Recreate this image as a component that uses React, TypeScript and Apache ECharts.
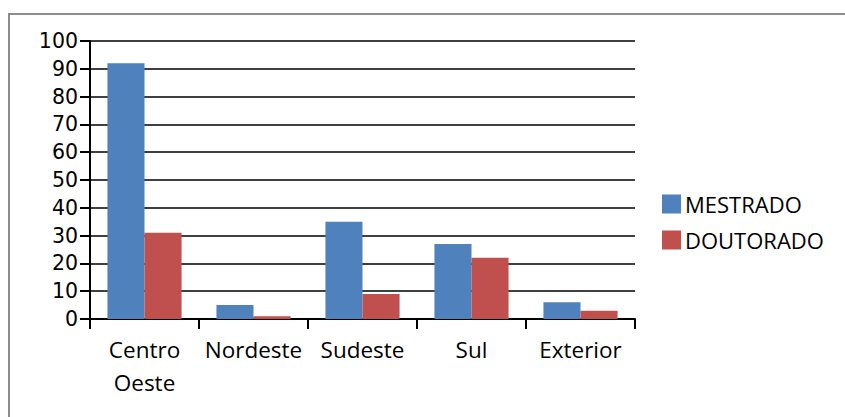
import React, { useEffect, useRef } from "react";
import * as echarts from "echarts";

const categories = ["Centro\nOeste", "Nordeste", "Sudeste", "Sul", "Exterior"];
const mestrado = [92, 5, 35, 27, 6];
const doutorado = [31, 1, 9, 22, 3];
const seriesNames = ["MESTRADO", "DOUTORADO"];

const FONT = "'Open Sans', 'Noto Sans', sans-serif";

export default function App() {
  const ref = useRef<HTMLDivElement>(null);
  useEffect(() => {
    const chart = echarts.init(ref.current!, undefined, { renderer: "svg" });
    chart.setOption({
      animation: false,
      backgroundColor: "#ffffff",
      graphic: [
        {
          type: "rect",
          shape: { x: 9, y: 14, width: 860, height: 430 },
          style: { fill: "none", stroke: "#8c8c8c", lineWidth: 2 },
          silent: true,
        },
      ],
      grid: { left: 90, top: 41, right: 210, bottom: 98, containLabel: false },
      legend: {
        orient: "vertical",
        left: 662,
        top: 193,
        padding: 0,
        itemWidth: 19,
        itemHeight: 19,
        itemGap: 14,
        icon: "rect",
        textStyle: {
          fontFamily: FONT,
          fontSize: 22,
          lineHeight: 19,
          color: "#000",
          padding: [0, 0, 0, -1],
        },
        data: seriesNames,
      },
      xAxis: {
        type: "category",
        data: categories,
        axisLine: { lineStyle: { color: "#000", width: 2 } },
        axisTick: { show: true, length: 10, lineStyle: { color: "#000", width: 2 } },
        axisLabel: {
          color: "#000",
          fontFamily: FONT,
          fontSize: 22.5,
          lineHeight: 33,
          margin: 14,
          interval: 0,
        },
      },
      yAxis: {
        type: "value",
        min: 0,
        max: 100,
        interval: 10,
        axisLine: { show: true, lineStyle: { color: "#000", width: 2 } },
        axisTick: { show: true, length: 10, lineStyle: { color: "#000", width: 2 } },
        axisLabel: {
          color: "#000",
          fontFamily: "'DejaVu Sans', sans-serif",
          fontSize: 20.5,
          lineHeight: 22,
          margin: 12,
        },
        splitLine: { lineStyle: { color: "#000", width: 1.5 } },
      },
      series: [
        {
          name: seriesNames[0],
          type: "bar",
          data: mestrado,
          itemStyle: { color: "#4f81bd" },
          barGap: "0%",
          barCategoryGap: "32%",
        },
        {
          name: seriesNames[1],
          type: "bar",
          data: doutorado,
          itemStyle: { color: "#c0504d" },
          barGap: "0%",
          barCategoryGap: "32%",
        },
      ],
    });
    return () => chart.dispose();
  }, []);
  return (
    <div
      ref={ref}
      style={{ position: "fixed", left: 0, top: 0, width: 845, height: 417 }}
    />
  );
}
